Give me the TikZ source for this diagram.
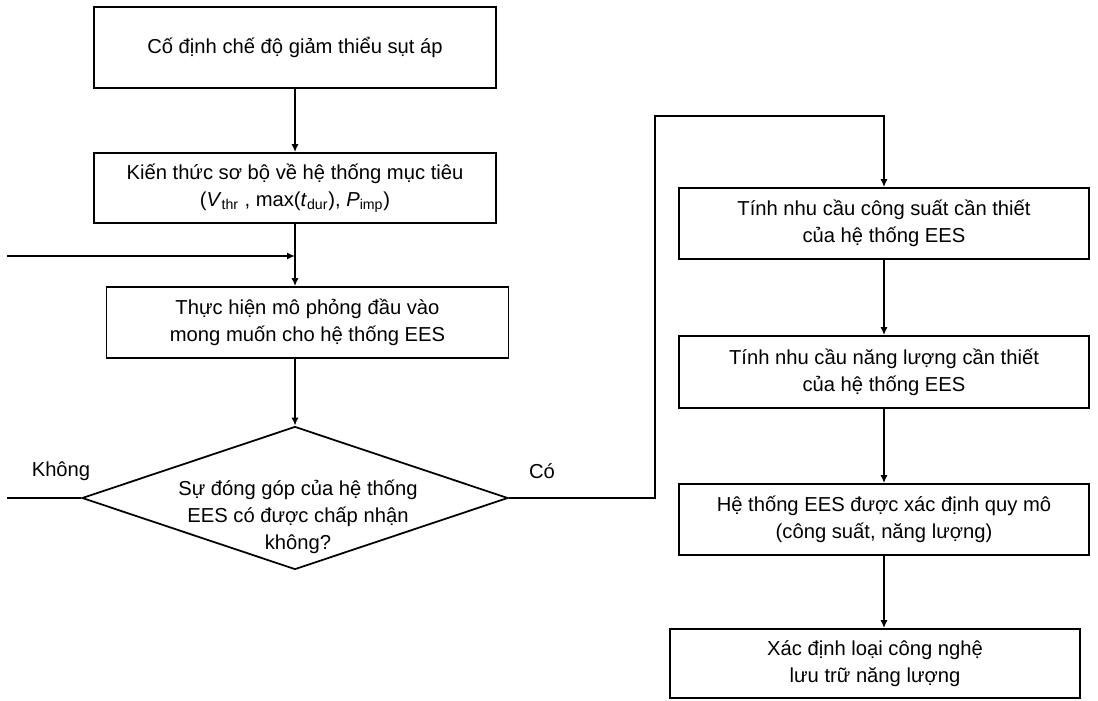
\documentclass[tikz,border=0pt]{standalone}
\usepackage{fontspec}
\setmainfont{Liberation Sans}
\usetikzlibrary{shapes.geometric,arrows.meta}

\begin{document}
\begin{tikzpicture}[x=0.02cm, y=-0.02cm, line width=1pt,
  >={Latex[length=4.5pt,width=4pt]},
  every node/.style={font=\fontsize{11.5}{15.3}\selectfont},
  box/.style={draw, rectangle, align=center, minimum width=8.04cm, minimum height=1.42cm},
  rbox/.style={box, minimum width=8.2cm},
  decision/.style={draw, diamond, inner sep=0pt, minimum width=8.52cm, minimum height=2.86cm}]
\useasboundingbox (0,0) rectangle (1098,700);

% Left column
\node[box, minimum height=1.62cm] (fix) at (295, 47.5) {Cố định chế độ giảm thiểu sụt áp};
\node[box, minimum height=1.4cm] (prior) at (295, 188) {Kiến thức sơ bộ về hệ thống mục tiêu\\(\textit{V}\textsubscript{thr} , max(\textit{t}\textsubscript{dur}), \textit{P}\textsubscript{imp})};
\node[box] (sim) at (307.5, 322.5) {Thực hiện mô phỏng đầu vào\\mong muốn cho hệ thống EES};
\node[decision] (check) at (295, 498) {};
\node[align=center] (checktext) at (298, 517) {Sự đóng góp của hệ thống\\EES có được chấp nhận\\không?};

% Right column
\node[rbox] (power) at (884, 223.5) {Tính nhu cầu công suất cần thiết\\của hệ thống EES};
\node[rbox, minimum height=1.44cm] (energy) at (884, 372) {Tính nhu cầu năng lượng cần thiết\\của hệ thống EES};
\node[rbox] (sizing) at (884, 519.5) {Hệ thống EES được xác định quy mô\\(công suất, năng lượng)};
\node[rbox, minimum height=1.38cm] (tech) at (875, 663.5) {Xác định loại công nghệ\\lưu trữ năng lượng};

% Free ends and corners
\coordinate (loopin) at (7, 256);
\coordinate (noend) at (7, 498);
\coordinate (yesup) at (655, 116);

% Arrows
\draw[->] (fix) -- (prior);
\draw[->] (prior.south) -- (prior.south |- sim.north);
\draw[->] (loopin) -- (loopin -| prior.south);
\draw[->] (sim.south -| check.north) -- (check.north);
\draw (check.west) -- (noend);
\draw[->] (check.east) -| (yesup) -| (power.north);
\draw[->] (power) -- (energy);
\draw[->] (energy) -- (sizing);
\draw[->] (sizing.south) -- (sizing.south |- tech.north);

% Labels
\node (nolabel) at (61, 471) {Không};
\node (yeslabel) at (542, 471) {Có};

\end{tikzpicture}
\end{document}
